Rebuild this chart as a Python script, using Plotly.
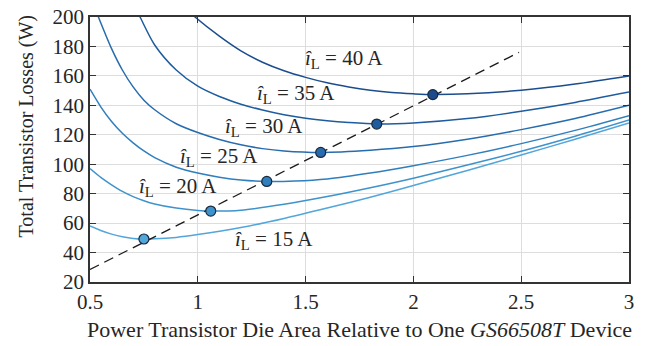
import plotly.graph_objects as go

# ---- data ----
currents = [15, 20, 25, 30, 35, 40]

x15 = [0.5, 0.55, 0.6, 0.65, 0.7, 0.75, 0.8, 0.9, 1.0, 1.2, 1.4, 1.6, 1.8, 2.0, 2.25, 2.5, 2.75, 3.0]
p15 = [58, 55, 52.5, 50.8, 49.6, 49.2, 49.3, 50.3, 52.2, 57, 63.2, 70.2, 77.6, 85.5, 95.8, 106.3, 117, 128]

x20 = [0.5, 0.55, 0.6, 0.65, 0.7, 0.75, 0.8, 0.9, 1.0, 1.06, 1.2, 1.4, 1.6, 1.8, 2.0, 2.25, 2.5, 2.75, 3.0]
p20 = [97, 91, 86, 81.5, 78, 75.2, 73, 70.2, 68.6, 68.2, 68.8, 72.8, 78, 84, 90.5, 99.5, 108.8, 119, 130]

x25 = [0.5, 0.55, 0.6, 0.65, 0.7, 0.75, 0.8, 0.9, 1.0, 1.1, 1.2, 1.32, 1.45, 1.6, 1.8, 2.0, 2.25, 2.5, 2.75, 3.0]
p25 = [151, 139, 129, 121, 114.5, 109, 104.5, 98, 94, 91.2, 89.3, 88.3, 88.6, 90, 94, 99, 106, 114, 123, 133]

x30 = [0.52, 0.539, 0.6, 0.65, 0.7, 0.75, 0.8, 0.9, 1.0, 1.1, 1.2, 1.3, 1.4, 1.57, 1.8, 2.0, 2.25, 2.5, 2.75, 3.0]
p30 = [207, 200, 178.5, 164, 152.5, 143.5, 137, 127.5, 121.5, 116.8, 113.2, 110.6, 109, 108, 109.5, 112, 117, 123.5, 131, 140]

x35 = [0.7, 0.732, 0.8, 0.9, 1.0, 1.1, 1.2, 1.3, 1.4, 1.5, 1.6, 1.7, 1.83, 2.0, 2.25, 2.5, 2.75, 3.0]
p35 = [209, 200, 181, 164, 153, 146, 140.8, 136.8, 133.6, 131.2, 129.5, 128.3, 127.3, 128, 131, 136, 142, 149]

x40 = [0.95, 0.987, 1.1, 1.2, 1.3, 1.4, 1.5, 1.6, 1.7, 1.8, 1.9, 2.0, 2.09, 2.25, 2.5, 2.75, 3.0]
p40 = [205, 200, 187, 177, 169.3, 163.5, 159, 155.3, 152.5, 150.3, 148.7, 147.8, 147.3, 147.8, 150.3, 154.5, 160]

opt_x = [0.75, 1.06, 1.32, 1.57, 1.83, 2.09]
opt_y = [49.2, 68.2, 88.3, 108, 127.3, 147.3]

trend_x = [0.5, 2.49]
trend_y = [28.5, 176]

x_ticks = [0.5, 1, 1.5, 2, 2.5, 3]
x_tick_text = ["0.5", "1", "1.5", "2", "2.5", "3"]
y_ticks = [20, 40, 60, 80, 100, 120, 140, 160, 180, 200]

# label anchor positions (data units)
label_x = [1.163, 0.717, 0.908, 1.116, 1.265, 1.488]
label_y = [48.5, 84.7, 105.1, 125.5, 147.9, 171.7]

colors = ["#52a6da", "#3f93cc", "#2f7fbe", "#276cae", "#1f5c9f", "#1b4d8e"]

series = [(x15, p15), (x20, p20), (x25, p25), (x30, p30), (x35, p35), (x40, p40)]

FONT = "Liberation Serif, Times New Roman, serif"
TXT = "#262626"

fig = go.Figure()

for (xs, ps), c in zip(series, colors):
    fig.add_trace(go.Scatter(x=xs, y=ps, mode="lines",
                             line=dict(color=c, width=1.5, shape="spline", smoothing=0.8),
                             showlegend=False, hoverinfo="skip"))

fig.add_trace(go.Scatter(x=trend_x, y=trend_y, mode="lines",
                         line=dict(color="#1a1a1a", width=1.3, dash="10px,6px"),
                         showlegend=False, hoverinfo="skip"))

fig.add_trace(go.Scatter(x=opt_x, y=opt_y, mode="markers",
                         marker=dict(size=10, color=colors,
                                     line=dict(color="#1a2a3a", width=1.2)),
                         showlegend=False, hoverinfo="skip"))

for cur, lx, ly in zip(currents, label_x, label_y):
    fig.add_annotation(x=lx, y=ly, xref="x", yref="y",
                       text=f"<i>î</i><sub>L</sub> = {cur} A",
                       showarrow=False, xanchor="left", yanchor="middle",
                       font=dict(family=FONT, size=21, color=TXT))

# axis titles as annotations for exact placement
fig.add_annotation(x=0.5, y=-0.181, xref="paper", yref="paper",
                   text="Power Transistor Die Area Relative to One <i>GS66508T</i> Device",
                   showarrow=False, xanchor="center", yanchor="middle",
                   font=dict(family=FONT, size=22, color=TXT))
fig.add_annotation(x=-0.1187, y=0.587, xref="paper", yref="paper",
                   text="Total Transistor Losses (W)", textangle=-90,
                   showarrow=False, xanchor="center", yanchor="middle",
                   font=dict(family=FONT, size=20, color=TXT))

# the page adds an 8px body margin, so the figure is sized/offset to compensate
fig.update_layout(
    width=638, height=338,
    margin=dict(l=82, r=17, t=9, b=64, autoexpand=False),
    plot_bgcolor="white", paper_bgcolor="white",
    font=dict(family=FONT, size=21, color=TXT),
)

fig.update_xaxes(range=[0.5, 3], tickvals=x_ticks, ticktext=x_tick_text,
                 showgrid=True, gridcolor="#dddddd", gridwidth=1,
                 showline=True, linecolor="#333333", linewidth=1.5, mirror="ticks",
                 ticks="inside", ticklen=6, tickcolor="#333333",
                 zeroline=False, automargin=False, ticklabeloverflow="allow",
                 tickfont=dict(family=FONT, size=21, color=TXT))

fig.update_yaxes(range=[20, 200], tickvals=y_ticks,
                 showgrid=True, gridcolor="#dddddd", gridwidth=1,
                 showline=True, linecolor="#333333", linewidth=1.5, mirror="ticks",
                 ticks="inside", ticklen=6, tickcolor="#333333",
                 zeroline=False, automargin=False, ticklabeloverflow="allow",
                 tickfont=dict(family=FONT, size=21, color=TXT))

fig.write_html("out.html")
